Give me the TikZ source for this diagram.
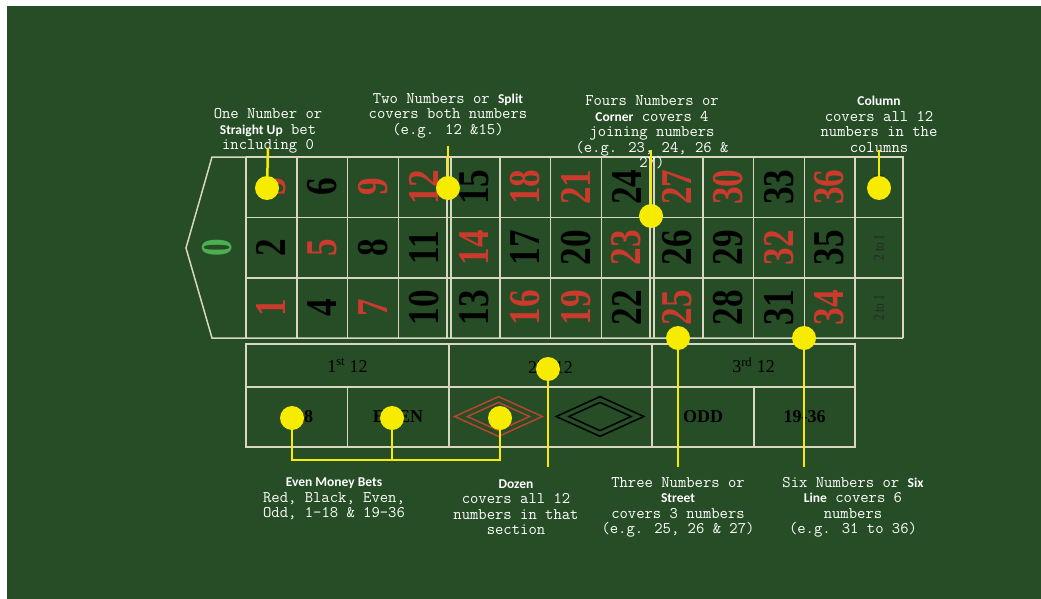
\documentclass[tikz,border=0pt]{standalone}
\usepackage{fontspec}
\setmainfont{Liberation Serif}
\newfontfamily\tagfont{Carlito}
\usetikzlibrary{calc}
\definecolor{felt}{HTML}{264D26}
\definecolor{chalk}{HTML}{D8D8C0}
\definecolor{numred}{HTML}{CC3A2E}
\definecolor{gemred}{HTML}{B8452F}
\definecolor{zerogreen}{HTML}{4CAF50}
\definecolor{marker}{HTML}{F7EC00}
\newcommand{\betname}[1]{{\tagfont\fontsize{13.5}{15.5}\selectfont\bfseries #1}}

\begin{document}
\begin{tikzpicture}[
  x=1pt,y=-1pt,
  grid/.style={draw=chalk,line width=1.5pt},
  num/.style={font=\fontsize{44}{44}\selectfont\bfseries,rotate=90,xscale=0.8,inner sep=0},
  numR/.style={num,text=numred},
  numB/.style={num,text=black},
  colmark/.style={font=\fontsize{15}{15}\selectfont,text=black!85,rotate=90,xscale=0.75,inner sep=0},
  field/.style={font=\fontsize{18}{18}\selectfont,text=black,inner sep=0},
  gem/.style={draw=#1,line width=1.6pt,double=felt,double distance=3.5pt},
  dot/.style={circle,fill=marker,minimum size=24pt,inner sep=0},
  lead/.style={draw=marker,line width=2.5pt},
  note/.style={font=\ttfamily\fontsize{16.2}{15.5}\selectfont,text=white,align=center,inner sep=0}
]
  \fill[white] (0,0) rectangle (1041,599);
  \fill[felt] (7,6) rectangle (1041,599);
  \useasboundingbox (0,0) rectangle (1041,599);

  % number grid with the zero end
  \draw[grid] (246,157) -- (212,157) -- (186,248) -- (212,338) -- (903,338);
  \draw[grid] (246,157) -- (903,157) -- (903,338);
  \foreach \y in {217.3,278} \draw[grid] (246,\y) -- (903,\y);
  \foreach \k in {0,1,2,3,5,6,7,9,10,11,12} \draw[grid] ({246+50.75*\k},157) -- ++(0,181);
  \foreach \k in {4,8} {
    \draw[grid] ({244+50.75*\k},157) -- ++(0,181);
    \draw[grid] ({248+50.75*\k},157) -- ++(0,181);
  }

  % dozens and even money boxes
  \draw[grid] (246,344) rectangle (855,447);
  \draw[grid] (246,387) -- (855,387);
  \foreach \x in {449,652} \draw[grid] (\x,344) -- (\x,447);
  \foreach \x in {347.5,754} \draw[grid] (\x,387) -- (\x,447);

  \node[num,text=zerogreen] (zero) at (217,248) {0};
  \foreach \clr [count=\n] in {R,B,R,B,R,B,R,B,R,B,B,R,B,R,B,R,B,R,R,B,R,B,R,B,R,B,R,B,B,R,B,R,B,R,B,R} {
    \pgfmathsetmacro\nx{246+50.75*(div(\n-1,3)+0.5)}
    \pgfmathsetmacro\ny{338-60.33*(mod(\n-1,3)+0.5)}
    \node[num\clr] (n\n) at (\nx,\ny) {\n};
  }
  \foreach \r in {0,1,2} \node[colmark] (col\r) at (879,{187+60.4*\r}) {2 to 1};

  \node[field] (doz1) at (347.5,365.5) {1\textsuperscript{st} 12};
  \node[field] (doz2) at (550.5,365.5) {2\textsuperscript{nd} 12};
  \node[field] (doz3) at (753.5,365.5) {3\textsuperscript{rd} 12};
  \node[field,font=\fontsize{18}{18}\selectfont\bfseries] (low) at (296.5,417) {1-18};
  \node[field,font=\fontsize{18}{18}\selectfont\bfseries] (even) at (398,417) {EVEN};
  \node[field,font=\fontsize{18}{18}\selectfont\bfseries] (odd) at (703,417) {ODD};
  \node[field,font=\fontsize{18}{18}\selectfont\bfseries] (high) at (804.5,417) {19-36};
  \draw[gem=gemred] (461,416.5) -- (498.5,399.5) -- (536,416.5) -- (498.5,433.5) -- cycle;
  \draw[gem=black] (562.5,416.5) -- (600,399.5) -- (637.5,416.5) -- (600,433.5) -- cycle;

  % bet notes
  \node[note] (straightlbl) at (268,131) {One Number or\\\betname{Straight Up} bet\\including 0};
  \node[note] (splitlbl) at (448,115.5) {Two Numbers or \betname{Split}\\covers both numbers\\(e.g. 12 \&15)};
  \node[note] (cornerlbl) at (652,132.5) {Fours Numbers or\\\betname{Corner} covers 4\\joining numbers\\(e.g. 23, 24, 26 \&\\27)};
  \node[note] (columnlbl) at (879,124.5) {\betname{Column}\\covers all 12\\numbers in the\\columns};
  \node[note] (evenlbl) at (334,499) {\betname{Even Money Bets}\\Red, Black, Even,\\Odd, 1-18 \& 19-36};
  \node[note] (dozenlbl) at (516,507) {\betname{Dozen}\\covers all 12\\numbers in that\\section};
  \node[note] (streetlbl) at (678,507.5) {Three Numbers or\\\betname{Street}\\covers 3 numbers\\(e.g. 25, 26 \& 27)};
  \node[note] (sixlbl) at (853,507.5) {Six Numbers or \betname{Six}\\\betname{Line} covers 6\\numbers\\(e.g. 31 to 36)};

  % markers
  \node[dot] (straightdot) at (267,188) {};
  \node[dot] (splitdot) at (448,188) {};
  \node[dot] (cornerdot) at (651,216) {};
  \node[dot] (columndot) at (879,188) {};
  \node[dot] (streetdot) at (678,338) {};
  \node[dot] (sixdot) at (804,338) {};
  \node[dot] (dozendot) at (548,369) {};
  \node[dot] (lowdot) at (292,418) {};
  \node[dot] (evendot) at (392,418) {};
  \node[dot] (reddot) at (500,418) {};

  \coordinate (straighttop) at (268,148);
  \coordinate (splittop) at (448,146);
  \coordinate (cornertop) at (651,150);
  \coordinate (columntop) at (879,150);
  \coordinate (streetend) at (678,467);
  \coordinate (sixend) at (804,467);
  \coordinate (dozenend) at (548,467);
  \coordinate (evenbar) at (0,460);
  \draw[lead] (straighttop) -- (straightdot);
  \draw[lead] (splittop) -- (splitdot);
  \draw[lead] (cornertop) -- (cornerdot);
  \draw[lead] (columntop) -- (columndot);
  \draw[lead] (streetdot) -- (streetend);
  \draw[lead] (sixdot) -- (sixend);
  \draw[lead] (dozendot) -- (dozenend);
  \draw[lead] (lowdot) |- (reddot |- evenbar) -- (reddot);
  \draw[lead] (evendot) -- (evendot |- evenbar);
\end{tikzpicture}
\end{document}
